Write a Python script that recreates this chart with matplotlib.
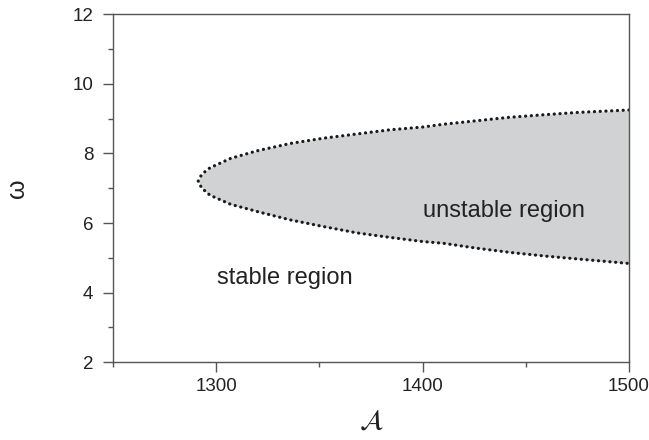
import numpy as np
import matplotlib
matplotlib.use("Agg")
import matplotlib.pyplot as plt
from matplotlib.ticker import MultipleLocator

plt.rcParams['font.family'] = ['Liberation Sans', 'DejaVu Sans']
plt.rcParams['mathtext.fontset'] = 'stix'

# stability boundary (A, omega)
A_vals = [1291.3, 1292.5, 1294.6, 1297, 1307, 1320, 1336, 1352, 1368, 1384, 1400, 1410, 1426, 1442, 1458, 1475, 1500]
omega_upper = [7.21, 7.35, 7.48, 7.59, 7.86, 8.08, 8.29, 8.44, 8.56, 8.68, 8.76, 8.84, 8.94, 9.04, 9.11, 9.18, 9.25]
omega_lower = [7.21, 7.06, 6.92, 6.80, 6.54, 6.33, 6.09, 5.90, 5.72, 5.59, 5.47, 5.42, 5.28, 5.16, 5.06, 4.97, 4.84]

x_major = [1300, 1400, 1500]
y_major = [2, 4, 6, 8, 10, 12]

axis_col = '#555555'
text_col = '#222222'

fig = plt.figure(figsize=(6.49, 4.4), dpi=100)
ax = fig.add_axes([0.1741, 0.1766, 0.7951, 0.7909])

ax.fill_between(A_vals, omega_lower, omega_upper, color='#d1d2d4', lw=0, zorder=1)

# dotted boundary
bx = A_vals[::-1] + A_vals[1:]
by = omega_upper[::-1] + omega_lower[1:]
ax.plot(bx, by, color='#1a1a1a', lw=2.3, linestyle=(0, (0.05, 1.75)),
        dash_capstyle='round', zorder=2)

ax.set_xlim(1250, 1500)
ax.set_ylim(2, 12)
ax.set_xticks(x_major)
ax.set_yticks(y_major)
ax.xaxis.set_minor_locator(MultipleLocator(50))
ax.yaxis.set_minor_locator(MultipleLocator(1))

for s in ax.spines.values():
    s.set_color(axis_col)
    s.set_linewidth(1.0)

ax.tick_params(which='major', direction='out', length=7.2, width=1.0,
               color=axis_col, labelsize=13.5, labelcolor=text_col)
ax.tick_params(axis='y', which='major', pad=7)
ax.tick_params(axis='x', which='major', pad=4)
ax.tick_params(which='minor', direction='out', length=3.8, width=1.0, color=axis_col)
ax.tick_params(top=False, right=False, which='both')

ax.text(1400, 6.35, 'unstable region', fontsize=17, color=text_col,
        ha='left', va='center', zorder=3)
ax.text(1300.5, 4.42, 'stable region', fontsize=17, color=text_col,
        ha='left', va='center', zorder=3)

ax.set_xlabel(r'$\mathcal{A}$', fontsize=20, color=text_col, labelpad=10)
ax.set_ylabel('ω', fontsize=18, color=text_col, rotation=90, labelpad=31)

fig.savefig('out.png', dpi=100)
